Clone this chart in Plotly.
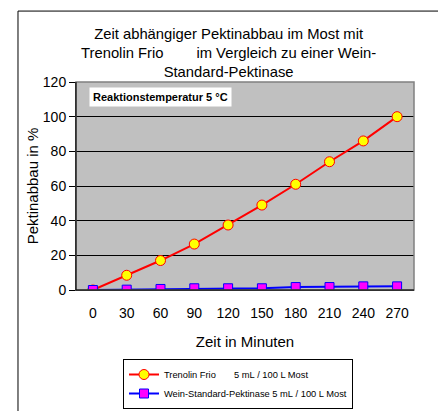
import plotly.graph_objects as go

minutes = ["0", "30", "60", "90", "120", "150", "180", "210", "240", "270"]
trenolin = [0, 8.5, 17, 26.5, 37.5, 49, 61, 74, 86, 100]
standard = [0, 0.2, 0.6, 1.0, 1.0, 1.0, 1.7, 1.7, 2.1, 2.1]
y_ticks = [0, 20, 40, 60, 80, 100, 120]

FONT = "Liberation Sans, Arial, sans-serif"
NB = "\u00a0"

fig = go.Figure()
fig.add_trace(go.Scatter(
    x=minutes, y=trenolin, mode="lines+markers",
    name="Trenolin Frio" + NB * 7 + "5 mL" + NB + "/" + NB + "100 L Most",
    line=dict(color="#ff0000", width=2),
    marker=dict(symbol="circle", size=10, color="#ffff00", line=dict(color="#ff0000", width=1)),
))
fig.add_trace(go.Scatter(
    x=minutes, y=standard, mode="lines+markers",
    name="Wein-Standard-Pektinase 5 mL" + NB + "/" + NB + "100 L Most",
    line=dict(color="#0000ff", width=2),
    marker=dict(symbol="square", size=9, color="#ff00ff", line=dict(color="#0000ff", width=1)),
))

# page body has an 8px default margin, so the figure is 8px smaller and shifted
fig.update_layout(
    width=438, height=403,
    margin=dict(l=68, r=32, t=74, b=121, autoexpand=False),
    paper_bgcolor="white",
    plot_bgcolor="#c0c0c0",
    font=dict(family=FONT, color="black", size=14),
    showlegend=True,
    legend=dict(
        x=(123 - 76) / 338, y=(290 - 359) / 208, xanchor="left", yanchor="top",
        bgcolor="white", bordercolor="black", borderwidth=1,
        font=dict(size=9.3, family=FONT),
        tracegroupgap=0, itemwidth=30,
    ),
    xaxis=dict(
        type="category", range=[-0.5, 9.5], automargin=False,
        showgrid=False, showline=True, linecolor="black", linewidth=1,
        ticks="", tickfont=dict(size=14), ticklabelstandoff=10,
        title=dict(text="Zeit in Minuten", font=dict(size=15), standoff=16),
        mirror=False, zeroline=False,
    ),
    yaxis=dict(
        range=[0, 120], tickvals=y_ticks, automargin=False,
        showgrid=True, gridcolor="black", gridwidth=1,
        showline=True, linecolor="black", linewidth=1,
        ticks="outside", ticklen=6, tickcolor="black",
        tickfont=dict(size=14),
        title=dict(text="Pektinabbau in %", font=dict(size=15), standoff=0),
        zeroline=False,
    ),
    shapes=[
        dict(type="rect", xref="paper", yref="paper", x0=0, x1=1, y0=0, y1=1,
             line=dict(color="#808080", width=1.5), fillcolor="rgba(0,0,0,0)", layer="above"),
        dict(type="line", xref="paper", yref="paper", x0=0, x1=0, y0=0, y1=1,
             line=dict(color="black", width=1)),
        dict(type="line", xref="paper", yref="paper", x0=0, x1=1, y0=0, y1=0,
             line=dict(color="black", width=1)),
        dict(type="rect", xref="paper", yref="paper", x0=-0.1716, x1=1.0769, y0=-0.62, y1=1.341,
             line=dict(color="black", width=1), fillcolor="rgba(0,0,0,0)"),
    ],
    annotations=[
        dict(text="Zeit abhängiger Pektinabbau im Most mit<br>Trenolin Frio" + NB * 8 +
             "im Vergleich zu einer Wein-<br>Standard-Pektinase",
             xref="paper", yref="paper", x=0.45, y=1.28, xanchor="center", yanchor="top",
             showarrow=False, font=dict(size=14.8, family=FONT), align="center"),
        dict(text="<b>Reaktionstemperatur 5 °C</b>",
             xref="paper", yref="paper", x=0.0385, y=0.976, xanchor="left", yanchor="top",
             showarrow=False, font=dict(size=11, family=FONT), bgcolor="white",
             borderpad=3),
    ],
)

fig.write_html("out.html")
